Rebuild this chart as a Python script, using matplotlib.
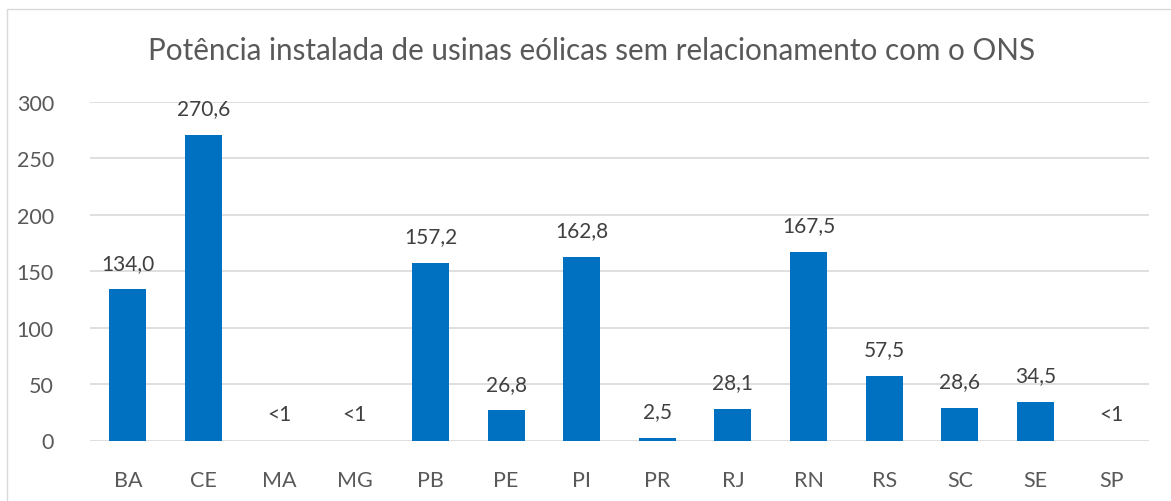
import matplotlib
matplotlib.use('agg')
import matplotlib.pyplot as plt
from matplotlib.patches import Rectangle

estados = ['BA', 'CE', 'MA', 'MG', 'PB', 'PE', 'PI', 'PR', 'RJ', 'RN', 'RS', 'SC', 'SE', 'SP']
potencia = [134.0, 270.6, 0.0, 0.0, 157.2, 26.8, 162.8, 2.5, 28.1, 167.5, 57.5, 28.6, 34.5, 0.0]
rotulos = ['134,0', '270,6', '<1', '<1', '157,2', '26,8', '162,8', '2,5', '28,1', '167,5', '57,5', '28,6', '34,5', '<1']
yticks = [0, 50, 100, 150, 200, 250, 300]

plt.rcParams['font.family'] = ['Lato', 'DejaVu Sans']
cinza = '#595959'

fig = plt.figure(figsize=(11.71, 5.02), dpi=100)
ax = fig.add_axes([90/1171, 1-441.5/502, (1149-90)/1171, (441.5-103)/502])

x = list(range(len(estados)))
ax.bar(x, potencia, width=0.49, color='#0070C0', zorder=3)
for xi, v, r in zip(x, potencia, rotulos):
    ax.annotate(r, (xi, v), xytext=(0, 12), textcoords='offset points',
                ha='center', va='bottom', fontsize=15, color='#404040')

ax.set_xlim(-0.5, len(estados) - 0.5)
ax.set_ylim(0, 300)
ax.set_yticks(yticks)
ax.set_yticklabels([str(t) for t in yticks], fontsize=15.5, color=cinza)
ax.set_xticks(x)
ax.set_xticklabels(estados, fontsize=15.5, color=cinza)
ax.tick_params(length=0)
ax.tick_params(axis='y', pad=26)
ax.tick_params(axis='x', pad=21)
ax.grid(axis='y', color='#d9d9d9', linewidth=1.2, zorder=0)
for s in ax.spines.values():
    s.set_visible(False)

fig.text(592/1171, 1-51/502, 'Potência instalada de usinas eólicas sem relacionamento com o ONS',
         ha='center', va='center', fontsize=21.3, color=cinza)
fig.patches.append(Rectangle((7/1171, -0.01), 1.02, 1-10/502+0.01, transform=fig.transFigure,
                             fill=False, edgecolor='#d9d9d9', linewidth=1))

fig.savefig('out.png', dpi=100)
